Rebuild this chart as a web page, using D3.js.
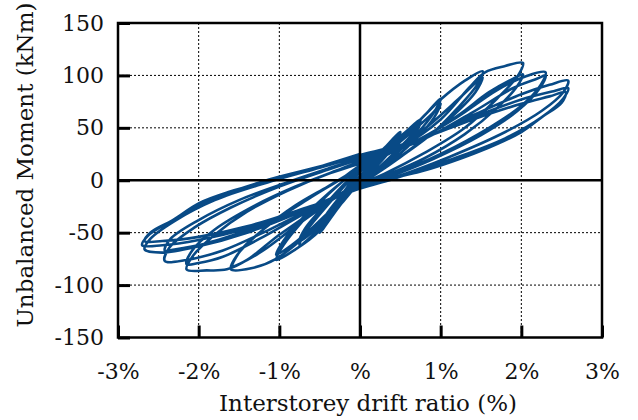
<!DOCTYPE html>
<html>
<head>
<meta charset="utf-8">
<script src="https://cdn.jsdelivr.net/npm/d3@7"></script>
<style>
  body { margin: 0; background: #fff; }
  text { font-family: "DejaVu Serif", serif; fill: #111; }
</style>
</head>
<body>
<svg id="chart" width="638" height="420"></svg>
<script>
// axis ticks
const xTicks = [-3, -2, -1, 0, 1, 2, 3];
const xTickLabels = ['-3%', '-2%', '-1%', '%', '1%', '2%', '3%'];
const yTicks = [-150, -100, -50, 0, 50, 100, 150];

// hysteresis cycles, [drift %, moment kNm]
const cycle1 = [[0,0],[0.12,12],[0.25,24],[0.2,16],[0.1,6],[0,-1],[-0.12,-12],[-0.25,-24],[-0.2,-15],[-0.1,-5],[0,4]];
const cycle1b = [[0,4],[0.18,18],[0.35,33],[0.28,24],[0.14,10],[0,0],[-0.18,-17],[-0.35,-34],[-0.28,-24],[-0.14,-8],[0,4]];
const cycle2 = [[0,4],[0.25,26],[0.5,46],[0.42,34],[0.2,15],[0,1],[-0.25,-24],[-0.5,-50],[-0.42,-36],[-0.22,-14],[0,8]];
const cycle3 = [[0,8],[0.25,27],[0.5,44],[0.42,33],[0.2,13],[0,-1],[-0.25,-22],[-0.5,-46],[-0.42,-33],[-0.2,-11],[0,10]];
const cycle3b = [[0,10],[0.3,28],[0.55,45],[0.75,58],[0.68,47],[0.45,28],[0.2,10],[0,-2],[-0.25,-22],[-0.5,-46],[-0.75,-62],[-0.68,-50],[-0.45,-28],[-0.2,-6],[0,10]];
const cycle3c = [[0,10],[0.3,27],[0.55,43],[0.75,55],[0.68,45],[0.45,26],[0.2,8],[0,-3],[-0.25,-21],[-0.5,-43],[-0.75,-58],[-0.68,-46],[-0.45,-25],[-0.2,-4],[0,10]];
const cycle4 = [[0,10],[0.33,30],[0.66,51],[0.85,66],[1.0,78],[0.92,65],[0.7,44],[0.4,22],[0.15,6],[0,-3],[-0.25,-22],[-0.5,-48],[-0.8,-66],[-1.04,-76],[-0.95,-62],[-0.7,-38],[-0.4,-14],[-0.15,3],[0,12]];
const cycle5 = [[0,12],[0.35,28],[0.7,50],[0.9,64],[1.0,73],[0.92,60],[0.7,40],[0.4,19],[0.15,4],[0,-4],[-0.3,-24],[-0.6,-46],[-0.85,-62],[-1.04,-71],[-0.95,-58],[-0.7,-35],[-0.4,-13],[-0.15,3],[0,13]];
const cycle6 = [[0,13],[0.33,29],[0.66,51],[1.0,77],[1.3,95],[1.52,104],[1.46,92],[1.2,68],[0.9,45],[0.5,22],[0.2,6],[0,-4],[-0.3,-24],[-0.6,-48],[-1.04,-75],[-1.35,-84],[-1.6,-85],[-1.52,-71],[-1.2,-47],[-0.8,-24],[-0.4,-6],[0,12]];
const cycle7 = [[0,12],[0.4,27],[0.8,49],[1.2,76],[1.45,94],[1.52,98],[1.43,84],[1.1,58],[0.7,34],[0.3,12],[0,0],[-0.4,-22],[-0.8,-44],[-1.2,-67],[-1.5,-80],[-1.58,-82],[-1.48,-67],[-1.1,-41],[-0.6,-16],[-0.2,3],[0,14]];
const cycle8 = [[0,14],[0.5,31],[1.0,58],[1.35,88],[1.55,103],[1.8,109],[2.02,112],[1.96,100],[1.7,78],[1.3,50],[0.8,26],[0.3,6],[0,-4],[-0.5,-26],[-1.0,-52],[-1.4,-76],[-1.65,-85],[-1.9,-86],[-2.15,-85],[-2.07,-72],[-1.8,-52],[-1.4,-30],[-0.9,-10],[-0.4,6],[0,16]];
const cycle9 = [[0,16],[0.6,33],[1.2,61],[1.6,84],[1.9,97],[2.02,101],[1.95,90],[1.7,69],[1.3,44],[0.8,21],[0.3,4],[0,-5],[-0.6,-28],[-1.2,-54],[-1.7,-73],[-2.0,-79],[-2.15,-80],[-2.08,-67],[-1.8,-47],[-1.3,-24],[-0.8,-6],[-0.3,9],[0,18]];
const cycle10 = [[0,18],[0.6,34],[1.2,60],[1.7,86],[2.05,99],[2.3,103],[2.24,91],[2.0,71],[1.6,50],[1.0,25],[0.4,5],[0,-6],[-0.6,-27],[-1.2,-50],[-1.7,-67],[-2.15,-76],[-2.42,-77],[-2.36,-64],[-2.05,-45],[-1.6,-26],[-1.0,-6],[-0.4,10],[0,20]];
const cycle11 = [[0,20],[0.7,36],[1.4,65],[1.9,88],[2.2,97],[2.3,100],[2.23,88],[1.95,66],[1.5,43],[0.9,20],[0.35,3],[0,-6],[-0.7,-28],[-1.4,-48],[-1.9,-60],[-2.3,-66],[-2.42,-67],[-2.35,-56],[-2.0,-38],[-1.5,-19],[-0.9,-2],[-0.4,11],[0,21]];
const cycle12 = [[0,21],[0.7,37],[1.4,62],[2.0,82],[2.35,91],[2.58,95],[2.52,84],[2.25,66],[1.8,46],[1.1,22],[0.4,2],[0,-7],[-0.7,-29],[-1.4,-50],[-2.0,-63],[-2.45,-69],[-2.67,-66],[-2.6,-56],[-2.3,-39],[-1.8,-19],[-1.1,-1],[-0.5,12],[0,23]];
const cycle13 = [[0,23],[0.7,38],[1.4,60],[2.0,77],[2.4,85],[2.58,88],[2.52,78],[2.25,60],[1.8,40],[1.1,19],[0.4,1],[0,-8],[-0.7,-28],[-1.4,-46],[-2.0,-57],[-2.45,-62],[-2.7,-62],[-2.63,-53],[-2.32,-38],[-1.9,-20],[-1.2,-1],[-0.5,13],[0,24]];
const cycle14 = [[0,24],[0.7,38],[1.4,58],[2.0,73],[2.35,80],[2.55,84],[2.5,74],[2.25,60],[2.0,46],[1.5,28],[1.0,14],[0.74,8],[0.3,0],[0,-8],[-0.7,-27],[-1.4,-44],[-2.0,-54],[-2.45,-58],[-2.67,-58],[-2.6,-50],[-2.32,-38],[-2.0,-22],[-1.62,-11],[-1.0,2],[-0.5,13],[0,25]];

const cycles = [cycle1, cycle1b, cycle2, cycle3, cycle3b, cycle3c, cycle4, cycle5,
  cycle6, cycle7, cycle8, cycle9, cycle10, cycle11, cycle12, cycle13, cycle14];

const svg = d3.select('#chart');
const plotLeft = 118, plotRight = 602, plotTop = 23, plotBottom = 337.5;

const x = d3.scaleLinear().domain([-3, 3]).range([plotLeft, plotRight]);
const y = d3.scaleLinear().domain([-150, 150]).range([plotBottom, plotTop]);

// dotted grid
svg.append('g')
  .selectAll('line')
  .data(xTicks.filter(d => d !== 0 && Math.abs(d) !== 3))
  .join('line')
  .attr('x1', d => x(d)).attr('x2', d => x(d))
  .attr('y1', plotTop).attr('y2', plotBottom)
  .attr('stroke', '#000').attr('stroke-width', 1)
  .attr('stroke-dasharray', '2,2');

svg.append('g')
  .selectAll('line')
  .data(yTicks.filter(d => d !== 0 && Math.abs(d) !== 150))
  .join('line')
  .attr('x1', plotLeft).attr('x2', plotRight)
  .attr('y1', d => y(d)).attr('y2', d => y(d))
  .attr('stroke', '#000').attr('stroke-width', 1)
  .attr('stroke-dasharray', '2,2');

// the loops
const points = cycles.flatMap((c, i) => i === 0 ? c : c.slice(1));
const line = d3.line()
  .x(d => x(d[0]))
  .y(d => y(d[1]))
  .curve(d3.curveCatmullRom.alpha(0.5));

svg.append('path')
  .datum(points)
  .attr('d', line)
  .attr('fill', 'none')
  .attr('stroke', '#084a86')
  .attr('stroke-width', 2.6)
  .attr('stroke-linejoin', 'round');

// zero lines
svg.append('line')
  .attr('x1', x(0)).attr('x2', x(0)).attr('y1', plotTop).attr('y2', plotBottom)
  .attr('stroke', '#000').attr('stroke-width', 2.5);
svg.append('line')
  .attr('x1', plotLeft).attr('x2', plotRight).attr('y1', y(0)).attr('y2', y(0))
  .attr('stroke', '#000').attr('stroke-width', 2.5);

// axes with inward ticks
const xAxis = d3.axisBottom(x).tickValues(xTicks)
  .tickFormat((d, i) => xTickLabels[i])
  .tickSizeInner(-12).tickSizeOuter(0).tickPadding(26);
const yAxis = d3.axisLeft(y).tickValues(yTicks)
  .tickFormat(d => String(d))
  .tickSizeInner(-12).tickSizeOuter(0).tickPadding(14);

const gx = svg.append('g').attr('transform', `translate(0,${plotBottom})`).call(xAxis);
const gy = svg.append('g').attr('transform', `translate(${plotLeft},0)`).call(yAxis);

[gx, gy].forEach(g => {
  g.select('.domain').remove();
  g.selectAll('.tick line').attr('stroke', '#000').attr('stroke-width', 3);
  g.selectAll('.tick text')
    .attr('font-family', '"DejaVu Serif", serif')
    .attr('font-size', 22)
    .attr('fill', '#111');
});

// frame
svg.append('rect')
  .attr('x', plotLeft).attr('y', plotTop)
  .attr('width', plotRight - plotLeft).attr('height', plotBottom - plotTop)
  .attr('fill', 'none').attr('stroke', '#000').attr('stroke-width', 2.5);

// axis titles
svg.append('text')
  .attr('x', (plotLeft + plotRight) / 2 + 8)
  .attr('y', 411)
  .attr('text-anchor', 'middle')
  .attr('font-size', 23)
  .text('Interstorey drift ratio (%)');

svg.append('text')
  .attr('transform', `translate(33,165) rotate(-90)`)
  .attr('text-anchor', 'middle')
  .attr('font-size', 23)
  .text('Unbalanced Moment (kNm)');
</script>
</body>
</html>
